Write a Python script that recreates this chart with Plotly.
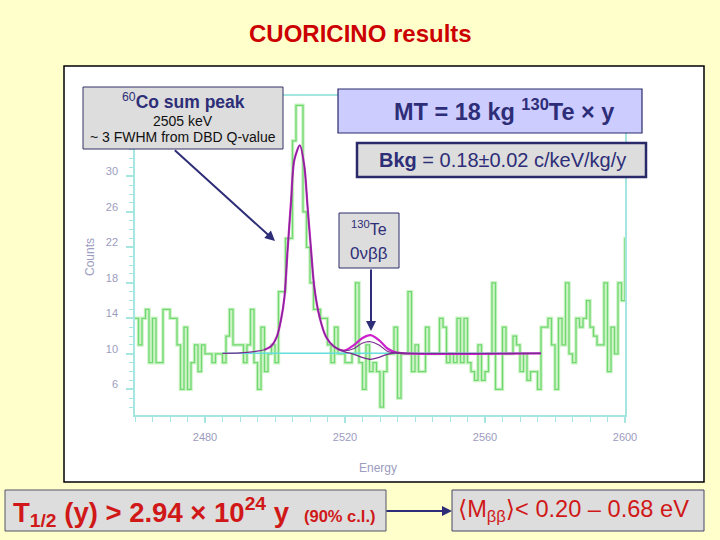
import plotly.graph_objects as go

# ---------------- data ----------------
energy_bins = list(range(2460, 2601))  # 1 keV bins, left edges
counts = [
    14, 11, 14, 15, 9, 14, 9, 9, 15, 15,      # 2460-2469
    14, 14, 11, 6, 13, 6, 9, 11, 8, 11,       # 2470-2479
    10, 10, 9, 10, 10, 9, 12, 15, 11, 11,     # 2480-2489
    11, 9, 11, 15, 9, 6, 13, 8, 10, 11,       # 2490-2499
    9, 17, 17, 23, 23, 34, 38, 38, 26, 22,    # 2500-2509
    18, 15, 15, 14, 14, 11, 9, 13, 10, 10,    # 2510-2519
    9, 9, 10, 18, 9, 6, 11, 8, 9, 8,          # 2520-2529
    4, 8, 10, 10, 13, 5, 10, 10, 17, 8,       # 2530-2539
    11, 8, 8, 13, 10, 10, 10, 14, 13, 9,      # 2540-2549
    10, 9, 14, 9, 14, 9, 8, 7, 11, 7,         # 2550-2559
    8, 10, 18, 6, 6, 13, 10, 10, 12, 11,      # 2560-2569
    8, 10, 7, 8, 8, 6, 13, 13, 14, 11,        # 2570-2579
    6, 14, 11, 18, 10, 9, 14, 13, 14, 16,     # 2580-2589
    13, 12, 11, 11, 18, 8, 13, 10, 18, 16,    # 2590-2599
    23,                                        # 2600
]

fit_energy = [2485, 2490, 2494, 2497, 2499, 2500.5, 2501.7, 2502.7, 2503.6, 2504.6,
              2505.5, 2507.1, 2508.4, 2509.3, 2510.3, 2511.2, 2512.7, 2514.6, 2516.9,
              2519.7, 2522.6, 2524.9, 2527.3, 2529.7, 2532.1, 2534.5, 2537, 2576]
fit_best = [10.05, 10.1, 10.25, 10.45, 10.9, 11.9, 13.8, 16.4, 21.7, 27.3,
            31.8, 33.5, 31.1, 26.6, 21.7, 17.6, 14.2, 11.9, 10.8,
            10.35, 10.6, 11.2, 11.36, 11.0, 10.3, 10.1, 10.05, 10.05]
fit_upper = [10.05, 10.1, 10.25, 10.45, 10.9, 11.9, 13.8, 16.4, 21.7, 27.3,
             31.8, 33.5, 31.1, 26.6, 21.7, 17.6, 14.2, 11.9, 10.8,
             10.35, 11.0, 11.75, 12.1, 11.55, 10.6, 10.17, 10.05, 10.05]
low_energy = [2516.9, 2519.7, 2522.6, 2524.9, 2527.3, 2529.7, 2532.1, 2534.5, 2537]
fit_lower = [10.8, 10.25, 9.94, 9.6, 9.38, 9.6, 9.94, 10.1, 10.05]
baseline_energy = [2485, 2576]
baseline_counts = [10.05, 10.05]

x_ticks = [2480, 2520, 2560, 2600]
y_ticks = [6, 10, 14, 18, 22, 26, 30]

# ---------------- helpers ----------------
W, H = 720, 540          # target picture size
FW = 732                 # figure width (the photographed page shows it at 720)
SX = FW / W
def px(x):
    return x / W
def py(y):
    return 1 - y / H

NAVY = "#2E2E78"
RED = "#D01818"
AXC = "#A6E6E0"
LBL = "#9C9CC0"

fig = go.Figure()

# histogram (halo + core)
hx = energy_bins + [energy_bins[-1] + 1]
hy = counts + [counts[-1]]
fig.add_trace(go.Scatter(x=hx, y=hy, mode="lines", line=dict(shape="hv", color="#CDF3C6", width=3.5),
                         hoverinfo="skip"))
fig.add_trace(go.Scatter(x=hx, y=hy, mode="lines", line=dict(shape="hv", color="#6FD86F", width=1.3)))

# background level
fig.add_trace(go.Scatter(x=baseline_energy, y=baseline_counts, mode="lines",
                         line=dict(color="#66DEDE", width=1.5)))
# upper limit curve (magenta)
fig.add_trace(go.Scatter(x=fit_energy[3:], y=fit_upper[3:], mode="lines",
                         line=dict(color="#CC22CC", width=2.2, shape="spline", smoothing=0.8)))
# best fit (purple)
fig.add_trace(go.Scatter(x=fit_energy, y=fit_best, mode="lines",
                         line=dict(color="#7A2C8E", width=1.1, shape="spline", smoothing=0.8)))
# lower curve
fig.add_trace(go.Scatter(x=low_energy, y=fit_lower, mode="lines",
                         line=dict(color="#7A2C8E", width=1.3, shape="spline", smoothing=0.8)))

shapes = []
# white panel
shapes.append(dict(type="rect", xref="paper", yref="paper", x0=px(64), x1=px(704), y0=py(482), y1=py(66),
                   fillcolor="white", line=dict(color="black", width=1.5), layer="below"))

def box(x0, y0, x1, y1, fill, lc, lw):
    shapes.append(dict(type="rect", xref="paper", yref="paper", x0=px(x0), x1=px(x1), y0=py(y1), y1=py(y0),
                       fillcolor=fill, line=dict(color=lc, width=lw), layer="above"))

box(83, 87, 283, 149, "#DDDDDD", "#333366", 1)
box(338, 89, 642, 133, "#CCCCFF", "#2A2A6A", 1.2)
box(357, 143, 646, 177, "#DDDDDD", "#2A2A6A", 2.5)
box(339, 213, 399, 268, "#DDDDDD", "#2A2A6A", 1)
box(5, 490, 386, 531, "#DDDDDD", "#555566", 1)
box(452, 490, 704, 531, "#DDDDDD", "#444466", 1)

FONT = "Arial, Liberation Sans, DejaVu Sans, sans-serif"
ann = []
def text(x, y, s, size, color, xanchor="center"):
    ann.append(dict(x=px(x), y=py(y), xref="paper", yref="paper", text=s, showarrow=False,
                    xanchor=xanchor, yanchor="middle", font=dict(size=size, color=color, family=FONT)))

def arrow(hx_, hy_, tx, ty):
    ann.append(dict(x=px(hx_), y=py(hy_), xref="paper", yref="paper", ax=(tx - hx_) * SX, ay=ty - hy_,
                    axref="pixel", ayref="pixel", text="", showarrow=True, arrowhead=2, arrowsize=1,
                    arrowwidth=2, arrowcolor=NAVY, standoff=0))

text(360, 33, "<b>CUORICINO results</b>", 24, "#CC0000")
text(183, 101, "<sup>60</sup><b>Co sum peak</b>", 17.5, NAVY)
text(183, 121, "2505 keV", 14, "#111111")
text(183, 137, "~ 3 FWHM from DBD Q-value", 14, "#111111")
text(504, 110, "<b>MT = 18 kg <sup>130</sup>Te × y</b>", 23.5, NAVY)
text(502, 160, "<b>Bkg</b> = 0.18±0.02 c/keV/kg/y", 20, NAVY)
text(369, 228, "<sup>130</sup>Te", 16, NAVY)
text(369, 254, "0νββ", 17, NAVY)
text(11, 512, "<b>T<sub>1/2</sub> (y) > 2.94 × 10<sup>24</sup> y</b>", 27.5, RED, "left")
text(302, 516, "<b>(90% c.l.)</b>", 16.5, RED, "left")
text(456, 511, "⟨M<sub>ββ</sub>⟩< 0.20 – 0.68 eV", 23.6, RED, "left")
text(378, 468, "Energy", 12, LBL)
ann.append(dict(x=px(90), y=py(257), xref="paper", yref="paper", text="Counts", showarrow=False,
                textangle=-90, xanchor="center", yanchor="middle",
                font=dict(size=12, color=LBL, family=FONT)))

arrow(275, 241, 175, 149)
arrow(371, 331, 371, 268)
arrow(452, 511, 386, 511)

fig.update_layout(
    width=FW, height=H, autosize=False, margin=dict(l=0, r=0, t=0, b=0),
    paper_bgcolor="#FFFFCC", plot_bgcolor="rgba(0,0,0,0)", showlegend=False,
    shapes=shapes, annotations=ann,
    xaxis=dict(domain=[px(135), px(625)], range=[2460, 2600], showline=True, linecolor=AXC, linewidth=1.5,
               mirror=True, ticks="outside", ticklen=6, tickcolor=AXC, tickwidth=1.5,
               tickmode="array", tickvals=x_ticks, ticktext=[str(v) for v in x_ticks],
               tickfont=dict(size=11, color=LBL, family=FONT), ticklabelstandoff=5,
               minor=dict(ticks="outside", ticklen=5, tickcolor=AXC, tickwidth=1, tickmode="linear",
                          tick0=2460, dtick=5),
               showgrid=False, zeroline=False, fixedrange=True),
    yaxis=dict(domain=[py(415), py(96)], range=[3.104, 39.05], showline=True, linecolor=AXC, linewidth=1.5,
               mirror=True, ticks="outside", ticklen=7, tickcolor=AXC, tickwidth=1.5,
               tickmode="array", tickvals=y_ticks, ticktext=[str(v) for v in y_ticks],
               tickfont=dict(size=11, color=LBL, family=FONT), ticklabelstandoff=6, ticklabelshift=-5,
               minor=dict(ticks="outside", ticklen=4, tickcolor=AXC, tickwidth=1, tickmode="linear",
                          tick0=3, dtick=1),
               showgrid=False, zeroline=False, fixedrange=True),
)

fig.write_html(
    "out.html",
    config={"responsive": False, "displayModeBar": False},
    post_script="document.body.style.margin='0';document.body.style.overflow='hidden';"
                "document.body.style.background='#FFFFCC';",
)
